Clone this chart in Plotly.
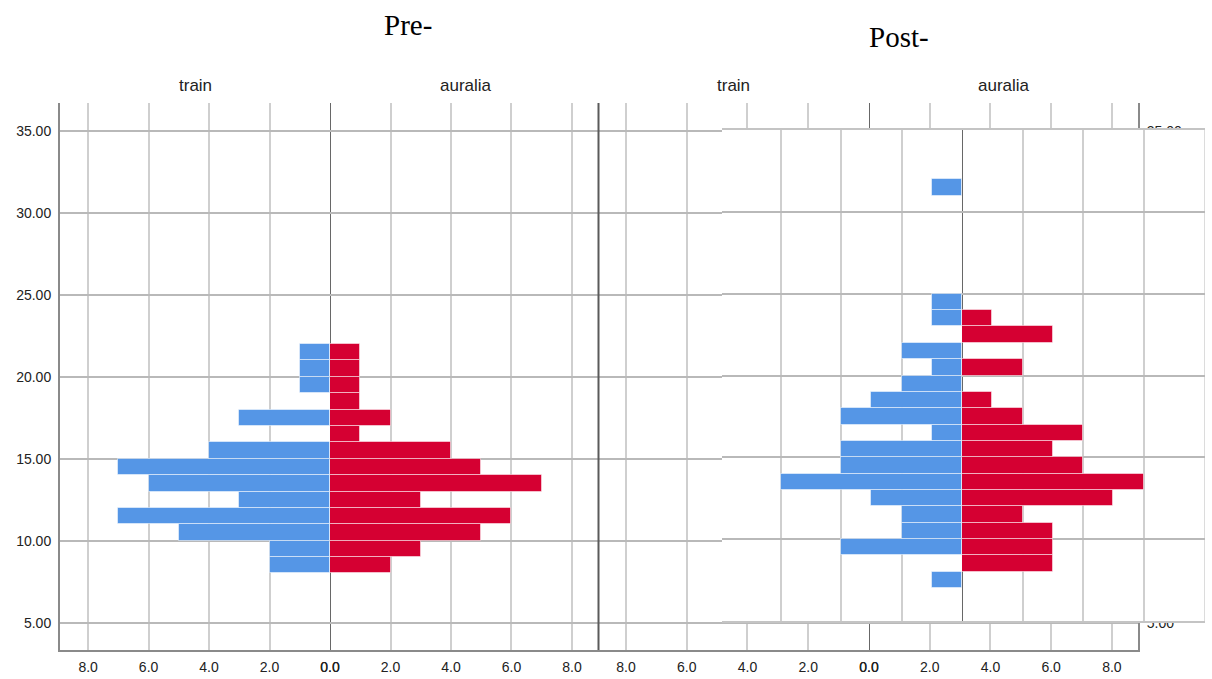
import plotly.graph_objects as go

# ---------------- data ----------------
pre_bins = [8, 9, 10, 11, 12, 13, 14, 15, 16, 17, 18, 19, 20, 21]
pre_train = [2, 2, 5, 7, 3, 6, 7, 4, 0, 3, 0, 1, 1, 1]
pre_auralia = [2, 3, 5, 6, 3, 7, 5, 4, 1, 2, 1, 1, 1, 1]

post_bins = [7, 8, 9, 10, 11, 12, 13, 14, 15, 16, 17, 18, 19, 20, 21, 22, 23, 24, 31]
post_train = [1, 0, 4, 2, 2, 3, 6, 4, 4, 1, 4, 3, 2, 1, 2, 0, 1, 1, 1]
post_auralia = [0, 3, 3, 3, 2, 5, 6, 4, 3, 4, 2, 1, 0, 2, 0, 3, 1, 0, 0]

group_labels = ["train", "auralia"]
panel_titles = ["Pre-", "Post-"]
y_ticks = [5, 10, 15, 20, 25, 30, 35]
x_ticks = [0, 2, 4, 6, 8]

BLUE = "#5596E6"
RED = "#D50032"
W, H = 1212, 679


def fx(px):
    return px / W


def fy(py):
    return 1 - py / H


pre_centers = [b + 0.5 for b in pre_bins]
post_centers = [b + 0.5 for b in post_bins]

fig = go.Figure()


def bars(centers, vals, color, xa, ya):
    fig.add_trace(go.Bar(
        y=centers, x=vals, orientation="h", width=1,
        marker=dict(color=color, line=dict(color="rgba(255,255,255,0.5)", width=1)),
        xaxis=xa, yaxis=ya, showlegend=False, hoverinfo="x+y"))


# left chart (Pre-)
bars(pre_centers, pre_train, BLUE, "x", "y")
bars(pre_centers, pre_auralia, RED, "x2", "y")
# right underlying chart frame (its bars are hidden under the pasted chart)
bars([], [], BLUE, "x3", "y2")
bars([], [], RED, "x4", "y2")
# pasted chart (Post-)
bars(post_centers, post_train, BLUE, "x5", "y3")
bars(post_centers, post_auralia, RED, "x6", "y3")

VGRID = "#cfcfcf"
HGRID = "#b9b9b9"
AXLINE = "#8a8a8a"
TICKFONT = dict(family="Liberation Sans, Arial", size=14, color="#222")

y_rng = [3.33, 36.71]
main_ydom = [fy(650), fy(103)]


def xaxis(dom, rng, anchor, labels=True):
    return dict(domain=[fx(dom[0]), fx(dom[1])], range=rng, anchor=anchor,
                tickvals=x_ticks, ticktext=[f"{v:.1f}" for v in x_ticks],
                showticklabels=labels, ticks="outside" if labels else "",
                ticklen=3, tickcolor="rgba(0,0,0,0)", automargin=False,
                showgrid=True, gridcolor=VGRID, gridwidth=2, zeroline=False,
                showline=True, mirror=(not labels),
                linecolor=AXLINE if labels else "#c4c4c4", linewidth=2 if labels else 1.5,
                tickfont=TICKFONT, fixedrange=True)


def yaxis(anchor, side):
    return dict(domain=main_ydom, range=y_rng, anchor=anchor, side=side,
                tickvals=y_ticks, ticktext=[f"{v:.2f}" for v in y_ticks],
                ticks="outside", ticklen=4, tickcolor="rgba(0,0,0,0)", automargin=False,
                showgrid=True, gridcolor=HGRID, gridwidth=2, zeroline=False,
                showline=True, linecolor=AXLINE, linewidth=2, tickfont=TICKFONT,
                fixedrange=True)


fig.update_layout(
    width=W, height=H, autosize=False,
    margin=dict(l=0, r=0, t=0, b=0, pad=0, autoexpand=False),
    paper_bgcolor="white", plot_bgcolor="white", bargap=0, barmode="overlay",
    xaxis=xaxis([60, 330], [8.93, 0], "y"),
    xaxis2=xaxis([330, 598], [0, 8.86], "y"),
    xaxis3=xaxis([598, 869], [8.92, 0], "y2"),
    xaxis4=xaxis([869, 1138], [0, 8.86], "y2"),
    xaxis5=xaxis([722, 962], [7.95, 0], "y3", labels=False),
    xaxis6=xaxis([962, 1205], [0, 8.03], "y3", labels=False),
    yaxis=yaxis("x", "left"),
    yaxis2=yaxis("x4", "right"),
    yaxis3=dict(domain=[fy(621), fy(130)], range=[4.99, 35.01], anchor="x5",
                tickvals=y_ticks, showticklabels=False, ticks="", automargin=False,
                showgrid=True, gridcolor=HGRID, gridwidth=2, zeroline=False,
                showline=False, fixedrange=True),
)

# zero (centre) lines of each pyramid
for xa, ya, y0, y1 in [("x2", "y", y_rng[0], y_rng[1]),
                       ("x4", "y2", y_rng[0], y_rng[1]),
                       ("x6", "y3", 4.99, 35.01)]:
    fig.add_shape(type="line", xref=xa, yref=ya, x0=0, x1=0, y0=y0, y1=y1,
                  line=dict(color="#000", width=1.2), layer="below")

# pasted chart right border
fig.add_shape(type="line", xref="x6", yref="y3", x0=8.03, x1=8.03, y0=4.99, y1=35.01,
              line=dict(color="#d0d0d0", width=1.5), layer="below")

# separator between the two pyramids
fig.add_shape(type="line", xref="paper", yref="paper", x0=fx(598.5), x1=fx(598.5),
              y0=fy(650), y1=fy(103), line=dict(color="#5a5a5a", width=2), layer="above")

# group labels
for cx, txt in [(196, group_labels[0]), (466, group_labels[1]),
                (734, group_labels[0]), (1004, group_labels[1])]:
    fig.add_annotation(x=fx(cx), y=fy(85), xref="paper", yref="paper", text=txt,
                       showarrow=False, xanchor="center", yanchor="middle",
                       font=dict(family="Liberation Sans, Arial", size=17, color="#222"))

# panel titles
fig.add_annotation(x=fx(408), y=fy(25), xref="paper", yref="paper", text=panel_titles[0],
                   showarrow=False, xanchor="center", yanchor="middle",
                   font=dict(family="Liberation Serif, Times New Roman", size=29, color="#000"))
fig.add_annotation(x=fx(899), y=fy(37), xref="paper", yref="paper", text=panel_titles[1],
                   showarrow=False, xanchor="center", yanchor="middle",
                   font=dict(family="Liberation Serif, Times New Roman", size=29, color="#000"))

fig.write_html("out.html",
               config={"displayModeBar": False},
               post_script="document.body.style.margin='0';"
                           "document.body.style.overflow='hidden';")
